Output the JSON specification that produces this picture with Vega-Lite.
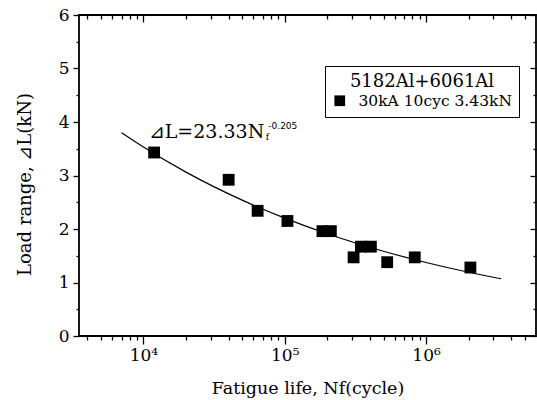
{
  "$schema": "https://vega.github.io/schema/vega-lite/v6.json",
  "width": 457,
  "height": 321,
  "autosize": "none",
  "padding": {"left": 79, "top": 15, "right": 1, "bottom": 64},
  "background": "white",
  "config": {
    "font": "DejaVu Serif",
    "view": {"stroke": "black", "strokeWidth": 1.8},
    "text": {"font": "DejaVu Serif"},
    "legend": {"titleFont": "DejaVu Serif", "labelFont": "DejaVu Serif"},
    "axis": {"domain": false, "grid": false, "tickColor": "black", "labelColor": "black", "titleColor": "black", "labelFont": "DejaVu Serif", "titleFont": "DejaVu Serif", "titleFontWeight": "normal", "tickWidth": 1.3}
  },
  "datasets": {
    "tests": [
      {"cycles": 11900, "load": 3.43},
      {"cycles": 40100, "load": 2.92},
      {"cycles": 64300, "load": 2.34},
      {"cycles": 104500, "load": 2.15},
      {"cycles": 185000, "load": 1.96},
      {"cycles": 212000, "load": 1.96},
      {"cycles": 307000, "load": 1.47},
      {"cycles": 346000, "load": 1.67},
      {"cycles": 407000, "load": 1.67},
      {"cycles": 531000, "load": 1.38},
      {"cycles": 832000, "load": 1.47},
      {"cycles": 2060000, "load": 1.28}
    ],
    "fit": [
      {"cycles": 7000, "load": 3.799},
      {"cycles": 10000, "load": 3.531},
      {"cycles": 20000, "load": 3.063},
      {"cycles": 50000, "load": 2.539},
      {"cycles": 100000, "load": 2.203},
      {"cycles": 200000, "load": 1.911},
      {"cycles": 500000, "load": 1.584},
      {"cycles": 1000000, "load": 1.374},
      {"cycles": 2000000, "load": 1.192},
      {"cycles": 3400000, "load": 1.069}
    ]
  },
  "resolve": {"axis": {"x": "independent", "y": "independent"}},
  "layer": [
    {
      "data": {"name": "fit"},
      "mark": {"type": "line", "strokeWidth": 1.2, "interpolate": "monotone"},
      "encoding": {
        "x": {"field": "cycles", "type": "quantitative",
          "scale": {"type": "log", "domain": [3500, 6000000], "nice": false},
          "axis": {"orient": "bottom", "values": [10000, 100000, 1000000], "labelExpr": "datum.value == 10000 ? '10⁴' : datum.value == 100000 ? '10⁵' : '10⁶'", "labelFontSize": 17, "tickSize": 8, "labelPadding": 3, "title": "Fatigue life, Nf(cycle)", "titleFontSize": 17.5, "titleY": 57, "titleBaseline": "alphabetic"}},
        "y": {"field": "load", "type": "quantitative",
          "scale": {"domain": [0, 6], "nice": false, "zero": true},
          "axis": {"orient": "left", "values": [0, 1, 2, 3, 4, 5, 6], "labelFontSize": 17, "tickSize": 6, "labelPadding": 4, "title": "Load range,  ⊿L(kN)", "titleFontSize": 18, "titleX": -54, "titleY": 169, "titleBaseline": "middle"}},
        "color": {"datum": "30kA 10cyc 3.43kN", "type": "nominal",
          "scale": {"range": ["black"]},
          "legend": {"orient": "none", "legendX": 246, "legendY": 51, "title": "5182Al+6061Al", "titleFontSize": 18, "titleFontWeight": "normal", "titleColor": "black", "titleAnchor": "middle", "titlePadding": 2, "labelFontSize": 15.5, "labelColor": "black", "symbolType": "square", "symbolSize": 115, "symbolFillColor": "black", "symbolStrokeColor": "black", "symbolStrokeWidth": 0, "strokeColor": "black", "fillColor": "white", "padding": 7, "labelOffset": 11}}
      }
    },
    {
      "data": {"name": "tests"},
      "mark": {"type": "point", "shape": "square", "filled": true, "size": 140, "opacity": 1, "color": "black"},
      "encoding": {
        "x": {"field": "cycles", "type": "quantitative",
          "scale": {"type": "log", "domain": [3500, 6000000], "nice": false},
          "axis": {"orient": "bottom", "values": [4000, 5000, 6000, 7000, 8000, 9000, 20000, 30000, 40000, 50000, 60000, 70000, 80000, 90000, 200000, 300000, 400000, 500000, 600000, 700000, 800000, 900000, 2000000, 3000000, 4000000, 5000000], "labels": false, "tickSize": 4, "title": null}},
        "y": {"field": "load", "type": "quantitative",
          "scale": {"domain": [0, 6], "nice": false},
          "axis": {"orient": "left", "values": [0.5, 1.5, 2.5, 3.5, 4.5, 5.5], "labels": false, "tickSize": 3, "title": null}},
        "shape": {"datum": "30kA 10cyc 3.43kN", "type": "nominal",
          "scale": {"range": ["square"]},
          "legend": {"orient": "none", "legendX": 251, "legendY": 56, "title": "5182Al+6061Al", "titleFontSize": 18, "titleFontWeight": "normal", "titleColor": "black", "titleAnchor": "middle", "titlePadding": 2, "labelFontSize": 15.5, "labelColor": "black", "symbolType": "square", "symbolSize": 115, "symbolFillColor": "black", "symbolStrokeWidth": 0, "strokeColor": "black", "fillColor": "black", "padding": 7, "labelOffset": 11}}
      }
    },
    {
      "data": {"values": [{"cycles": 10900, "load": 3.70, "text": "⊿L=23.33N"}]},
      "mark": {"type": "text", "align": "left", "baseline": "alphabetic", "fontSize": 19, "color": "black"},
      "encoding": {
        "x": {"field": "cycles", "type": "quantitative",
          "scale": {"type": "log", "domain": [3500, 6000000], "nice": false},
          "axis": {"orient": "top", "values": [10000, 100000, 1000000], "labels": false, "tickSize": -7, "title": null}},
        "y": {"field": "load", "type": "quantitative",
          "scale": {"domain": [0, 6], "nice": false},
          "axis": {"orient": "right", "values": [0, 1, 2, 3, 4, 5, 6], "labels": false, "tickSize": -6, "title": null}},
        "text": {"field": "text"}
      }
    },
    {
      "data": {"values": [{"cycles": 76500, "load": 3.87, "text": "-0.205"}]},
      "mark": {"type": "text", "align": "left", "baseline": "alphabetic", "fontSize": 9, "font": "DejaVu Sans", "color": "black"},
      "encoding": {
        "x": {"field": "cycles", "type": "quantitative",
          "scale": {"type": "log", "domain": [3500, 6000000], "nice": false},
          "axis": {"orient": "top", "values": [4000, 5000, 6000, 7000, 8000, 9000, 20000, 30000, 40000, 50000, 60000, 70000, 80000, 90000, 200000, 300000, 400000, 500000, 600000, 700000, 800000, 900000, 2000000, 3000000, 4000000, 5000000], "labels": false, "tickSize": -4, "title": null}},
        "y": {"field": "load", "type": "quantitative",
          "scale": {"domain": [0, 6], "nice": false},
          "axis": {"orient": "right", "values": [0.5, 1.5, 2.5, 3.5, 4.5, 5.5], "labels": false, "tickSize": -3, "title": null}},
        "text": {"field": "text"}
      }
    },
    {
      "data": {"values": [{"cycles": 73500, "load": 3.655, "text": "f"}]},
      "mark": {"type": "text", "align": "left", "baseline": "alphabetic", "fontSize": 9, "color": "black"},
      "encoding": {
        "x": {"field": "cycles", "type": "quantitative", "scale": {"type": "log", "domain": [3500, 6000000], "nice": false}, "axis": null},
        "y": {"field": "load", "type": "quantitative", "scale": {"domain": [0, 6], "nice": false}, "axis": null},
        "text": {"field": "text"}
      }
    }
  ]
}
